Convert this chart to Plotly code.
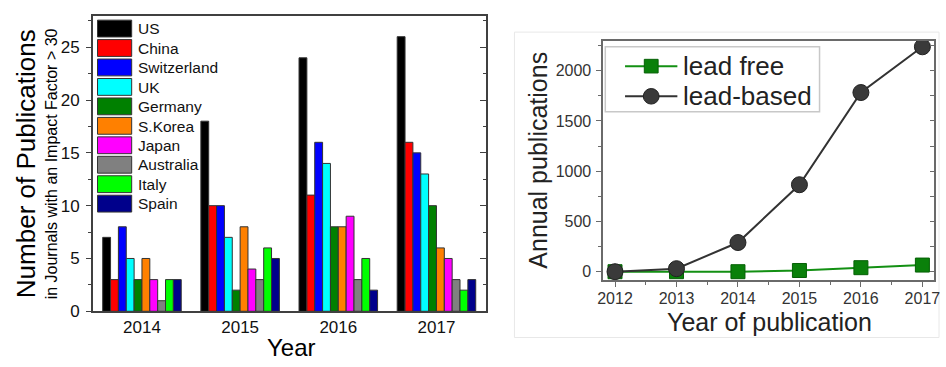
import plotly.graph_objects as go

# ---- data: publications in high-impact journals by country ----
years = [2014, 2015, 2016, 2017]
countries = ["US", "China", "Switzerland", "UK", "Germany",
             "S.Korea", "Japan", "Australia", "Italy", "Spain"]
colors = ["#000000", "#ff0000", "#0000ff", "#00ffff", "#008000",
          "#ff8000", "#ff00ff", "#808080", "#00ff00", "#00008b"]
counts = {
    "US":          [7, 18, 24, 26],
    "China":       [3, 10, 11, 16],
    "Switzerland": [8, 10, 16, 15],
    "UK":          [5, 7, 14, 13],
    "Germany":     [3, 2, 8, 10],
    "S.Korea":     [5, 8, 8, 6],
    "Japan":       [3, 4, 9, 5],
    "Australia":   [1, 3, 3, 3],
    "Italy":       [3, 6, 5, 2],
    "Spain":       [3, 5, 2, 3],
}

# ---- data: annual perovskite publications ----
pub_years = [2012, 2013, 2014, 2015, 2016, 2017]
series_names = ["lead free", "lead-based"]
lead_free = [0, 0, 0, 12, 40, 66]
lead_based = [0, 30, 290, 865, 1782, 2237]

W, H = 946, 367
FONT = "Liberation Sans, Arial, sans-serif"


def px(x):
    return x / W


def py(y):
    return 1 - y / H


fig = go.Figure()

for name, col in zip(countries, colors):
    fig.add_trace(go.Bar(
        x=years, y=counts[name], name=name,
        marker=dict(color=col, line=dict(color="#333333", width=1)),
        xaxis="x", yaxis="y", showlegend=False,
    ))

# empty traces so the inward right-hand tick axes are drawn
fig.add_trace(go.Scatter(x=[], y=[], xaxis="x", yaxis="y3", showlegend=False))
fig.add_trace(go.Scatter(x=[], y=[], xaxis="x2", yaxis="y4", showlegend=False))

free_style = dict(line_col="#139013", fill="#0a800a", edge="#056005", symbol="square", size=14)
based_style = dict(line_col="#333333", fill="#3a3a3a", edge="#222222", symbol="circle", size=16)

for name, vals, st in zip(series_names, [lead_free, lead_based], [free_style, based_style]):
    fig.add_trace(go.Scatter(
        x=pub_years, y=vals, name=name, mode="lines+markers",
        line=dict(color=st["line_col"], width=2),
        marker=dict(symbol=st["symbol"], size=st["size"], color=st["fill"],
                    line=dict(color=st["edge"], width=1)),
        xaxis="x2", yaxis="y2", showlegend=False,
    ))

axis_col = "#404040"
frame_col = "#6a6a6a"

shapes = []
annotations = []

# left chart legend with large swatches
for i, (name, col) in enumerate(zip(countries, colors)):
    top = 20.7 + 20 * i
    shapes.append(dict(type="rect", xref="paper", yref="paper",
                       x0=px(92.7), x1=px(127.3), y0=py(top), y1=py(top + 17.3),
                       fillcolor=col, line=dict(color="#333333", width=1)))
    annotations.append(dict(text=name, xref="paper", yref="paper",
                            x=px(132), y=py(top + 8.9), xanchor="left",
                            yanchor="middle", showarrow=False,
                            font=dict(size=15.5, color="#111111", family=FONT)))

# right chart legend box
shapes.append(dict(type="rect", xref="paper", yref="paper",
                   x0=px(607), x1=px(824), y0=py(115), y1=py(48),
                   fillcolor="white", line=dict(color="#c8c8c8", width=1.5)))
for i, (name, st) in enumerate(zip(series_names, [free_style, based_style])):
    cy = 68 + 31 * i
    shapes.append(dict(type="line", xref="paper", yref="paper",
                       x0=px(627), x1=px(680), y0=py(cy), y1=py(cy),
                       line=dict(color=st["line_col"], width=2)))
    half = st["size"] / 2
    shapes.append(dict(type="rect" if st["symbol"] == "square" else "circle",
                       xref="paper", yref="paper",
                       x0=px(653.5 - half), x1=px(653.5 + half),
                       y0=py(cy + half), y1=py(cy - half),
                       fillcolor=st["fill"], line=dict(color=st["edge"], width=1)))
    annotations.append(dict(text=name, xref="paper", yref="paper",
                            x=px(684), y=py(cy), xanchor="left", yanchor="middle",
                            showarrow=False,
                            font=dict(size=26, color="#222222", family=FONT)))

# faint frame around the right panel
shapes.append(dict(type="rect", xref="paper", yref="paper",
                   x0=px(515), x1=px(945), y0=py(347), y1=py(33),
                   line=dict(color="#e8e8e8", width=1), layer="below"))

# axis titles
annotations += [
    dict(text="Number of Publications", xref="paper", yref="paper",
         x=px(21), y=py(168), textangle=-90, showarrow=False,
         xanchor="center", yanchor="middle",
         font=dict(size=26, color="#000000", family=FONT)),
    dict(text="in Journals with an Impact Factor > 30", xref="paper", yref="paper",
         x=px(46.5), y=py(168), textangle=-90, showarrow=False,
         xanchor="center", yanchor="middle",
         font=dict(size=16, color="#000000", family=FONT)),
    dict(text="Year", xref="paper", yref="paper",
         x=px(289), y=py(357), showarrow=False,
         xanchor="center", yanchor="middle",
         font=dict(size=24, color="#000000", family=FONT)),
    dict(text="Annual publications", xref="paper", yref="paper",
         x=px(538), y=py(165), textangle=-90, showarrow=False,
         xanchor="center", yanchor="middle",
         font=dict(size=25, color="#222222", family=FONT)),
    dict(text="Year of publication", xref="paper", yref="paper",
         x=px(773), y=py(331), showarrow=False,
         xanchor="center", yanchor="middle",
         font=dict(size=25, color="#222222", family=FONT)),
]

left_dom_x = [px(88), px(485.7)]
left_dom_y = [py(320), py(16)]
right_dom_x = [px(605), px(940)]
right_dom_y = [py(288.3), py(41.7)]

fig.update_layout(
    width=W, height=H,
    margin=dict(l=0, r=0, t=0, b=0),
    paper_bgcolor="white", plot_bgcolor="white",
    font=dict(family=FONT, color="#000000"),
    showlegend=False,
    barmode="group", bargap=0.2, bargroupgap=0,
    shapes=shapes, annotations=annotations,
    xaxis=dict(domain=left_dom_x, anchor="y", range=[2013.5, 2017.5],
               tickvals=years, ticks="", ticklen=0, showgrid=False, zeroline=False,
               showline=True, linecolor=axis_col, linewidth=1.5, mirror=True,
               tickfont=dict(size=17, color="#111111"), ticklabelstandoff=0),
    yaxis=dict(domain=left_dom_y, anchor="x", range=[0, 28],
               tickvals=[0, 5, 10, 15, 20, 25], ticks="outside", ticklen=5,
               tickcolor=axis_col, tickwidth=1.2,
               minor=dict(ticks="outside", ticklen=3,
                          tickvals=[2.5, 7.5, 12.5, 17.5, 22.5, 27.5],
                          tickcolor=axis_col),
               showgrid=False, zeroline=False, showline=True,
               linecolor=axis_col, linewidth=1.5,
               tickfont=dict(size=17, color="#111111"), ticklabelstandoff=3),
    yaxis3=dict(overlaying="y", anchor="x", side="right", range=[0, 28],
                tickvals=[0, 5, 10, 15, 20, 25], ticks="inside", ticklen=6,
                tickcolor=axis_col, tickwidth=1.2,
                minor=dict(ticks="inside", ticklen=3,
                           tickvals=[2.5, 7.5, 12.5, 17.5, 22.5, 27.5],
                           tickcolor=axis_col),
                showticklabels=False, showgrid=False, zeroline=False,
                showline=True, linecolor=axis_col, linewidth=1.5),
    xaxis2=dict(domain=right_dom_x, anchor="y2", range=[2011.81, 2017.19],
                tickvals=pub_years, ticks="outside", ticklen=5,
                tickcolor=frame_col, tickwidth=1.2,
                minor=dict(ticks="outside", ticklen=3, dtick=0.5, tick0=2012,
                           tickcolor=frame_col),
                showgrid=False, zeroline=False, showline=True,
                linecolor=frame_col, linewidth=1.8, mirror=True,
                ticklabeloverflow="allow",
                tickfont=dict(size=16, color="#333333"), ticklabelstandoff=-3),
    yaxis2=dict(domain=right_dom_y, anchor="x2", range=[-87, 2299],
                tickvals=[0, 500, 1000, 1500, 2000], ticks="outside", ticklen=5,
                tickcolor=frame_col, tickwidth=1.2,
                minor=dict(ticks="outside", ticklen=3,
                           tickvals=[250, 750, 1250, 1750, 2250],
                           tickcolor=frame_col),
                showgrid=False, zeroline=False, showline=True,
                linecolor=frame_col, linewidth=1.8,
                tickfont=dict(size=16, color="#333333"), ticklabelstandoff=2),
    yaxis4=dict(overlaying="y2", anchor="x2", side="right", range=[-87, 2299],
                tickvals=[0, 250, 500, 750, 1000, 1250, 1500, 1750, 2000, 2250],
                ticks="inside", ticklen=4, tickcolor=frame_col, tickwidth=1.2,
                showticklabels=False, showgrid=False, zeroline=False,
                showline=True, linecolor=frame_col, linewidth=1.8),
)

fig.write_html("out.html")
